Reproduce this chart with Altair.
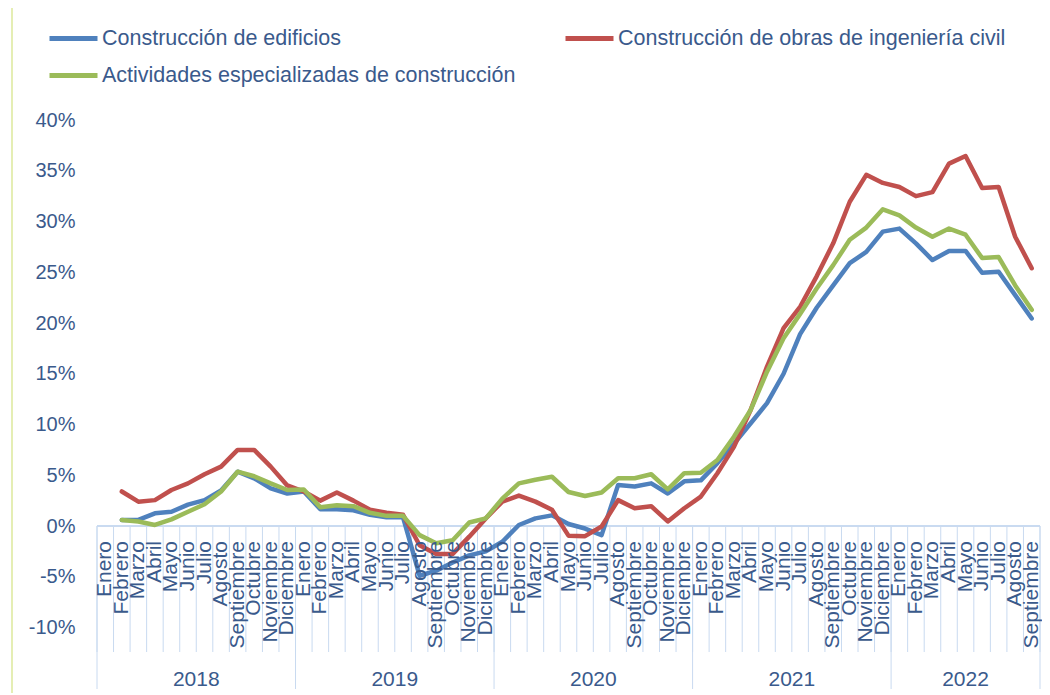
import altair as alt
import pandas as pd

# ---------------- data ----------------
months = ["Enero", "Febrero", "Marzo", "Abril", "Mayo", "Junio", "Julio",
          "Agosto", "Septiembre", "Octubre", "Noviembre", "Diciembre"]
years = ["2018", "2019", "2020", "2021", "2022"]
months_per_year = [12, 12, 12, 12, 9]

series_names = ["Construcción de edificios",
                "Construcción de obras de ingeniería civil",
                "Actividades especializadas de construcción"]
series_colors = ["#4F81BD", "#C0504D", "#9BBB59"]

# values (%) from Febrero 2018 to Septiembre 2022 (Enero 2018 has no value)
edificios = [0.6, 0.6, 1.25, 1.4, 2.1, 2.55, 3.5, 5.35, 4.7, 3.7, 3.2,
             3.4, 1.65, 1.65, 1.55, 1.1, 0.85, 0.85, -4.9, -4.4, -3.6, -2.9, -2.5,
             -1.55, 0.1, 0.75, 1.05, 0.2, -0.25, -0.9, 4.05, 3.9, 4.2, 3.2, 4.4,
             4.5, 6.2, 8.1, 10.1, 12.1, 15.0, 18.9, 21.5, 23.7, 25.9, 27.0, 29.0,
             29.3, 27.85, 26.2, 27.1, 27.1, 24.95, 25.05, 22.75, 20.45]
obras = [3.4, 2.4, 2.55, 3.55, 4.2, 5.1, 5.85, 7.5, 7.5, 5.85, 4.0,
         3.4, 2.5, 3.3, 2.5, 1.6, 1.3, 1.1, -1.9, -2.75, -2.75, -1.05, 0.75,
         2.4, 3.0, 2.4, 1.6, -0.95, -1.0, -0.05, 2.55, 1.75, 1.95, 0.45, 1.75,
         2.9, 5.2, 7.8, 11.4, 15.7, 19.5, 21.6, 24.6, 27.85, 31.95, 34.6, 33.8,
         33.4, 32.5, 32.9, 35.7, 36.45, 33.3, 33.4, 28.5, 25.4]
actividades = [0.6, 0.45, 0.1, 0.65, 1.4, 2.15, 3.4, 5.35, 4.9, 4.2, 3.55,
               3.6, 1.85, 2.05, 1.95, 1.3, 1.0, 1.0, -0.9, -1.7, -1.4, 0.35, 0.75,
               2.7, 4.2, 4.55, 4.85, 3.35, 2.95, 3.3, 4.7, 4.7, 5.1, 3.6, 5.2,
               5.25, 6.5, 8.8, 11.4, 15.2, 18.5, 20.9, 23.4, 25.7, 28.2, 29.4, 31.2,
               30.6, 29.4, 28.5, 29.3, 28.7, 26.4, 26.5, 23.7, 21.3]

# ---------------- tables ----------------
cat_labels = []
for n in months_per_year:
    cat_labels += months[:n]
n_cat = len(cat_labels)
cats = pd.DataFrame({"idx": list(range(n_cat)), "mes": cat_labels})

rows = []
for name, vals in zip(series_names, [edificios, obras, actividades]):
    for k, v in enumerate(vals):
        rows.append({"idx": k + 1, "serie": name, "valor": v})
df = pd.DataFrame(rows)

starts = [sum(months_per_year[:i]) for i in range(len(years))]
year_df = pd.DataFrame({
    "anio": years,
    "centro": [s + (n - 1) / 2 for s, n in zip(starts, months_per_year)],
})
month_bounds = pd.DataFrame({"b": [i - 0.5 for i in range(n_cat + 1)]})
year_bounds = pd.DataFrame({"b": [s - 0.5 for s in starts] + [n_cat - 0.5]})

# ---------------- style ----------------
FONT = "Liberation Sans"
TXT = "#3A5A8C"
GRID = "#C9DAF0"
W, H = 943, 507.5

xs = alt.Scale(domain=[-0.5, n_cat - 0.5], nice=False, zero=False)
ys = alt.Scale(domain=[-10, 40], nice=False, zero=False)
yaxis = alt.Axis(values=list(range(-10, 45, 5)), labelExpr="datum.value + '%'",
                 ticks=False, domain=False, grid=False, title=None,
                 labelFontSize=20, labelFont=FONT, labelColor=TXT, labelPadding=22)

# legend order (column-major layout): col 1 = edificios, actividades; col 2 = obras
legend_order = [series_names[0], series_names[2], series_names[1]]
legend_colors = [series_colors[0], series_colors[2], series_colors[1]]
color_enc = alt.Color("serie:N",
                      scale=alt.Scale(domain=legend_order, range=legend_colors),
                      legend=alt.Legend(orient="none", legendX=-50, legendY=-108,
                                        columns=2, columnPadding=39, rowPadding=-14,
                                        symbolType="stroke", symbolSize=2304,
                                        symbolStrokeWidth=5, labelFontSize=21.5,
                                        labelFont=FONT, labelColor=TXT,
                                        labelLimit=800, labelOffset=2, title=None))

month_grid = alt.Chart(month_bounds).mark_rule(color=GRID, strokeWidth=1).encode(
    x=alt.X("b:Q", scale=xs, axis=None),
    y=alt.YDatum(0, scale=ys, axis=yaxis),
    y2=alt.value(532),
)
year_grid = alt.Chart(year_bounds).mark_rule(color=GRID, strokeWidth=1).encode(
    x=alt.X("b:Q", scale=xs, axis=None),
    y=alt.YDatum(0, scale=ys, axis=yaxis),
    y2=alt.value(569),
)
zero_line = alt.Chart(month_bounds).mark_rule(color=GRID, strokeWidth=1).encode(
    x=alt.XDatum(-0.5, scale=xs, axis=None),
    x2=alt.datum(n_cat - 0.5),
    y=alt.YDatum(0, scale=ys, axis=yaxis),
)
left_border = alt.Chart(month_bounds).mark_rule(color="#E4EEB4", strokeWidth=1.5).encode(
    x=alt.value(-85), y=alt.value(-112), y2=alt.value(575),
)

line_layers = []
for name in series_names:
    line_layers.append(
        alt.Chart(df).transform_filter(alt.datum.serie == name)
        .mark_line(strokeWidth=4.5, strokeJoin="round", strokeCap="round").encode(
            x=alt.X("idx:Q", scale=xs, axis=None),
            y=alt.Y("valor:Q", scale=ys, axis=yaxis),
            color=color_enc,
            order=alt.Order("idx:Q"),
        )
    )

month_text = alt.Chart(cats).mark_text(angle=270, align="right", baseline="middle",
                                        font=FONT, fontSize=21, color=TXT).encode(
    x=alt.X("idx:Q", scale=xs, axis=None),
    y=alt.value(421),
    text="mes:N",
)
year_text = alt.Chart(year_df).mark_text(align="center", baseline="alphabetic",
                                          font=FONT, fontSize=21, color=TXT).encode(
    x=alt.X("centro:Q", scale=xs, axis=None),
    y=alt.value(566),
    text="anio:N",
)

chart = alt.layer(left_border, month_grid, year_grid, zero_line, *line_layers,
                  month_text, year_text).properties(
    width=W, height=H,
    background="white",
    autosize=alt.AutoSizeParams(type="none"),
    padding={"left": 89, "top": 112, "right": 2, "bottom": 65},
).configure_view(stroke="transparent", strokeWidth=0)

chart.save("out.html", embed_options={"renderer": "svg", "actions": False})
